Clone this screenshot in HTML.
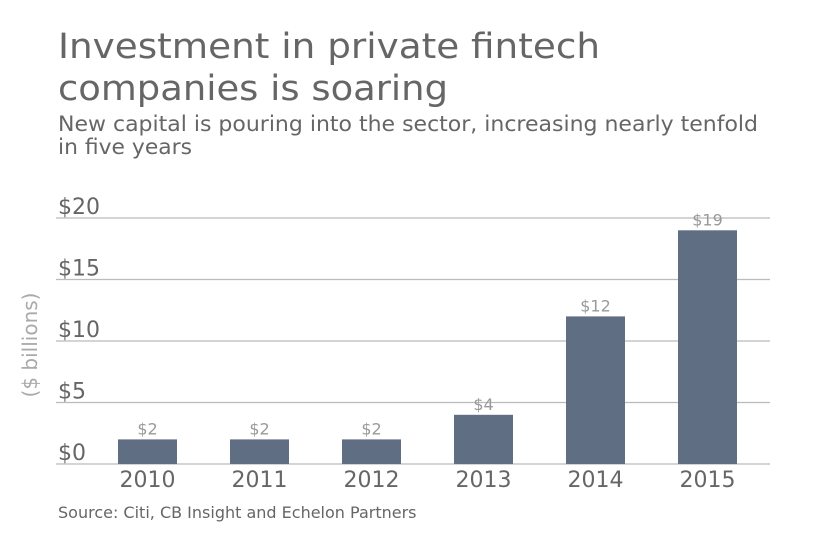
<!DOCTYPE html>
<html><head><meta charset="utf-8"><style>
html,body{margin:0;padding:0;background:#fff;}
svg{display:block;font-family:"DejaVu Sans","Liberation Sans",sans-serif;}
</style></head><body>
<svg id="chart" width="840" height="547" viewBox="0 0 840 547">
<text x="58" y="58" font-size="35" fill="#666" textLength="542" lengthAdjust="spacingAndGlyphs">Investment in private fintech</text>
<text x="58" y="100" font-size="35" fill="#666" textLength="390" lengthAdjust="spacingAndGlyphs">companies is soaring</text>
<text x="58" y="131" font-size="21" fill="#666" textLength="700" lengthAdjust="spacingAndGlyphs">New capital is pouring into the sector, increasing nearly tenfold</text>
<text x="58" y="154" font-size="21" fill="#666" textLength="134" lengthAdjust="spacingAndGlyphs">in five years</text>
<text transform="translate(37,345) rotate(-90)" text-anchor="middle" font-size="20" fill="#aaa">($ billions)</text>
<g id="grid"></g><g id="bars"></g>
<text x="58" y="518" font-size="16" fill="#666">Source: Citi, CB Insight and Echelon Partners</text>
</svg>
<script>
const categories=["2010","2011","2012","2013","2014","2015"];
const values=[2,2,2,4,12,19];
const valueLabels=["$2","$2","$2","$4","$12","$19"];
const ticks=[0,5,10,15,20];
const tickLabels=["$0","$5","$10","$15","$20"];
const NS="http://www.w3.org/2000/svg";
const y0=464,pxPer=(464-218)/20;
const y=v=>y0-v*pxPer;
const x=i=>147.5+i*112;
const bw=59;
const grid=document.getElementById('grid'),bars=document.getElementById('bars');
function mk(t,a,p){const e=document.createElementNS(NS,t);for(const k in a)e.setAttribute(k,a[k]);p.appendChild(e);return e;}
ticks.forEach((t,i)=>{
 const l=mk('line',{x1:56,x2:770,y1:y(t),y2:y(t),stroke:'#bbb','stroke-width':1.3},grid);
 
 
 const tx=mk('text',{x:58,y:y(t)-4,'font-size':22,fill:'#666'},grid);
 tx.textContent=tickLabels[i];
 
 
});
categories.forEach((c,i)=>{
 const r=mk('rect',{x:x(i)-bw/2,y:y(values[i]),width:bw,height:y0-y(values[i]),fill:'#5f6e82'},bars);
 
 
 const v=mk('text',{x:x(i),y:y(values[i])-5,'text-anchor':'middle','font-size':16,fill:'#999'},bars);
 v.textContent=valueLabels[i];
 
 
 const xl=mk('text',{x:x(i),y:487,'text-anchor':'middle','font-size':22,fill:'#666'},bars);
 xl.textContent=c;
 
 
});
</script>
</body></html>
